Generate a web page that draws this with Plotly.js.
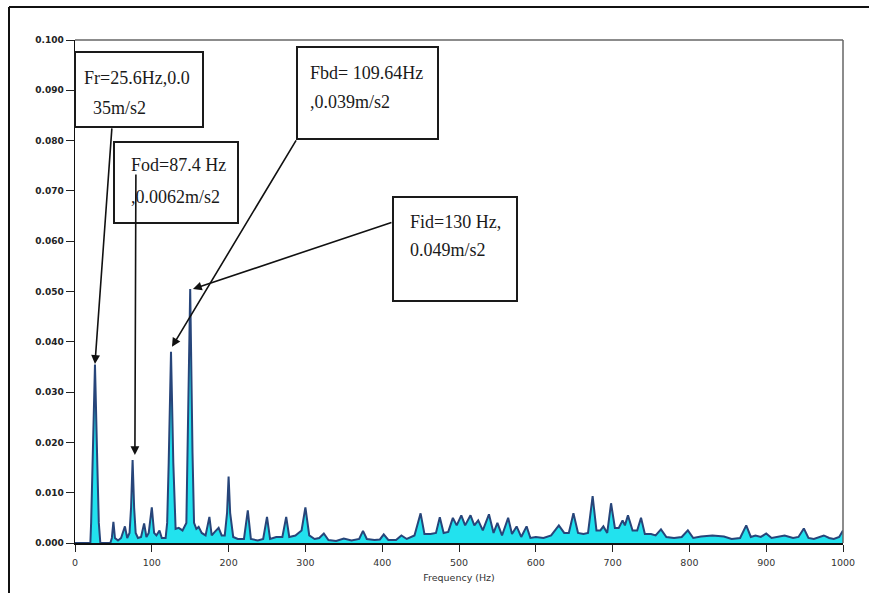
<!DOCTYPE html>
<html>
<head>
<meta charset="utf-8">
<script src="https://cdn.plot.ly/plotly-3.0.1.min.js"></script>
<style>
html,body{margin:0;padding:0;background:#fff;}
#chart{width:869px;height:593px;}
</style>
</head>
<body>
<div id="chart"></div>
<script>
// Frequency (Hz)
const freq = [0,20,21,23,26,29,31,33,46,48,50,52,56,60,65,68,71,73,75,77,79,82,86,90,93,96,100,103,106,110,113,118,120,122,125,128,130,131,135,140,145,147,150,153,155,158,161,165,170,175,178,182,187,191,195,198,200,202,206,212,220,225,229,238,245,250,254,262,270,275,279,287,295,300,305,312,318,324,330,340,350,360,370,375,380,390,397,402,408,418,425,432,442,450,455,463,470,475,480,486,492,497,503,508,515,520,525,531,539,545,550,556,564,569,575,581,588,593,600,610,620,630,637,643,649,655,662,668,674,679,684,688,693,698,703,708,713,716,720,726,732,737,742,750,756,763,770,780,790,798,805,815,830,845,855,866,874,880,886,893,900,907,915,924,935,942,949,955,962,970,975,982,988,995,1000];
// Acceleration amplitude (m/s2)
const amp = [0,0,0.004,0.018,0.0355,0.016,0.004,0,0,0.001,0.0042,0.001,0.0005,0.001,0.0033,0.001,0.002,0.007,0.0165,0.007,0.002,0.001,0.0012,0.0039,0.0012,0.002,0.0071,0.002,0.0015,0.0025,0.001,0.001,0.004,0.016,0.038,0.016,0.004,0.0028,0.003,0.0025,0.004,0.02,0.0505,0.018,0.004,0.0028,0.0032,0.002,0.0015,0.0052,0.0015,0.0022,0.003,0.0015,0.0015,0.006,0.0132,0.006,0.0012,0.0008,0.0008,0.0065,0.0008,0.0005,0.0008,0.0052,0.0008,0.0012,0.0012,0.0052,0.0012,0.0015,0.0025,0.0071,0.0015,0.0008,0.001,0.0019,0.0006,0.0004,0.0009,0.0005,0.0008,0.0024,0.0008,0.0006,0.0007,0.0017,0.0006,0.0006,0.0015,0.0008,0.0015,0.0059,0.0018,0.0018,0.002,0.0051,0.002,0.0022,0.005,0.0035,0.0055,0.0035,0.0055,0.0035,0.0045,0.0025,0.0057,0.002,0.004,0.0015,0.005,0.0018,0.0033,0.0012,0.0033,0.001,0.0012,0.001,0.0015,0.0035,0.002,0.002,0.0059,0.002,0.0018,0.002,0.0093,0.0025,0.0025,0.0033,0.002,0.0079,0.003,0.003,0.0045,0.0035,0.0055,0.0025,0.0025,0.005,0.0018,0.0018,0.0015,0.0027,0.0012,0.001,0.0012,0.0025,0.001,0.0013,0.0015,0.0013,0.0008,0.001,0.0035,0.0012,0.0015,0.0012,0.0019,0.001,0.0012,0.0015,0.001,0.0012,0.0029,0.001,0.0008,0.0012,0.0015,0.001,0.0008,0.0012,0.0025];

const yTicks = [0,0.01,0.02,0.03,0.04,0.05,0.06,0.07,0.08,0.09,0.1];
const yTickText = ["0.000","0.010","0.020","0.030","0.040","0.050","0.060","0.070","0.080","0.090","0.100"];
const xTicks = [0,100,200,300,400,500,600,700,800,900,1000];
const xTickText = ["0","100","200","300","400","500","600","700","800","900","1000"];

// Annotation labels
const labelLines = [
  ["Fr=25.6Hz,0.0", "35m/s2"],
  ["Fod=87.4 Hz", ",0.0062m/s2"],
  ["Fbd= 109.64Hz", ",0.039m/s2"],
  ["Fid=130 Hz,", "0.049m/s2"]
];
// Peaks the arrows point to (Hz, m/s2)
const arrowTipsX = [26, 78, 126.3, 153.6];
const arrowTipsY = [0.0356, 0.0175, 0.039, 0.0505];

// pixel -> paper helpers (plot area 75..843 x, 40..543 y)
const L = 75, R = 843, T = 40, B = 543;
const px = x => (x - L) / (R - L);
const py = y => (B - y) / (B - T);

const boxes = [
  [75, 52, 203, 127],
  [114, 142, 238, 223],
  [297, 47, 438, 139],
  [393, 197, 517, 301]
];
const textPos = [
  [[82, 78], [91, 108]],
  [[129, 165], [129, 197]],
  [[308, 73], [308, 102]],
  [[408, 222], [408, 250]]
];
const arrowOffsets = [[17, -237], [1, -282], [125, -208], [200, -67]];

const shapes = [];
// outer frame lines
shapes.push({type:'line', xref:'paper', yref:'paper', x0:px(9), x1:px(9), y0:py(7), y1:py(600), line:{color:'#111', width:2}});
shapes.push({type:'line', xref:'paper', yref:'paper', x0:px(9), x1:px(880), y0:py(7), y1:py(7), line:{color:'#111', width:2}});
// plot frame top/right
shapes.push({type:'line', xref:'paper', yref:'paper', x0:0, x1:1, y0:1, y1:1, line:{color:'#666', width:1.5}});
shapes.push({type:'line', xref:'paper', yref:'paper', x0:1, x1:1, y0:0, y1:1, line:{color:'#666', width:1.5}});
boxes.forEach(b => {
  shapes.push({type:'rect', xref:'paper', yref:'paper', x0:px(b[0]), x1:px(b[2]), y0:py(b[3]), y1:py(b[1]),
    line:{color:'#1a1a1a', width:2}, fillcolor:'#ffffff', layer:'above'});
});

const annotations = [];
labelLines.forEach((lines, i) => {
  lines.forEach((t, j) => {
    annotations.push({xref:'paper', yref:'paper', x:px(textPos[i][j][0]), y:py(textPos[i][j][1]),
      xanchor:'left', yanchor:'middle', text:t, showarrow:false,
      font:{family:'Liberation Serif, Times New Roman, serif', size:18, color:'#1a1a1a'}});
  });
});
arrowTipsX.forEach((x, i) => {
  annotations.push({xref:'x', yref:'y', x:x, y:arrowTipsY[i], text:'', showarrow:true,
    ax:arrowOffsets[i][0], ay:arrowOffsets[i][1], arrowhead:2, arrowsize:1.1, arrowwidth:1.6,
    arrowcolor:'#111', standoff:0});
});

const trace = {
  x: freq, y: amp, type:'scatter', mode:'lines', fill:'tozeroy',
  fillcolor:'#22e2ee', line:{color:'#27457a', width:2}, hoverinfo:'x+y'
};

const layout = {
  width:869, height:593,
  margin:{l:L, r:869-R, t:T, b:593-B, pad:0},
  paper_bgcolor:'#ffffff', plot_bgcolor:'#ffffff',
  showlegend:false,
  xaxis:{range:[0,1000], tickvals:xTicks, ticktext:xTickText, ticks:'outside', ticklen:7, tickcolor:'#222',
    ticklabelstandoff:3,
    showline:true, linecolor:'#111', linewidth:1.5, showgrid:false, zeroline:false,
    tickfont:{family:'DejaVu Sans, Verdana, sans-serif', size:9.5, color:'#333'},
    title:{text:'Frequency (Hz)', standoff:7, font:{family:'DejaVu Sans, Verdana, sans-serif', size:9.5, color:'#333'}}},
  yaxis:{range:[0,0.1], tickvals:yTicks, ticktext:yTickText, ticks:'outside', ticklen:8, tickcolor:'#222',
    showline:true, linecolor:'#111', linewidth:1.5, showgrid:false, zeroline:false,
    tickfont:{family:'DejaVu Sans, Verdana, sans-serif', size:9, color:'#222', weight:'bold'}},
  shapes: shapes,
  annotations: annotations
};

Plotly.newPlot('chart', [trace], layout, {staticPlot:true, displayModeBar:false});
</script>
</body>
</html>
